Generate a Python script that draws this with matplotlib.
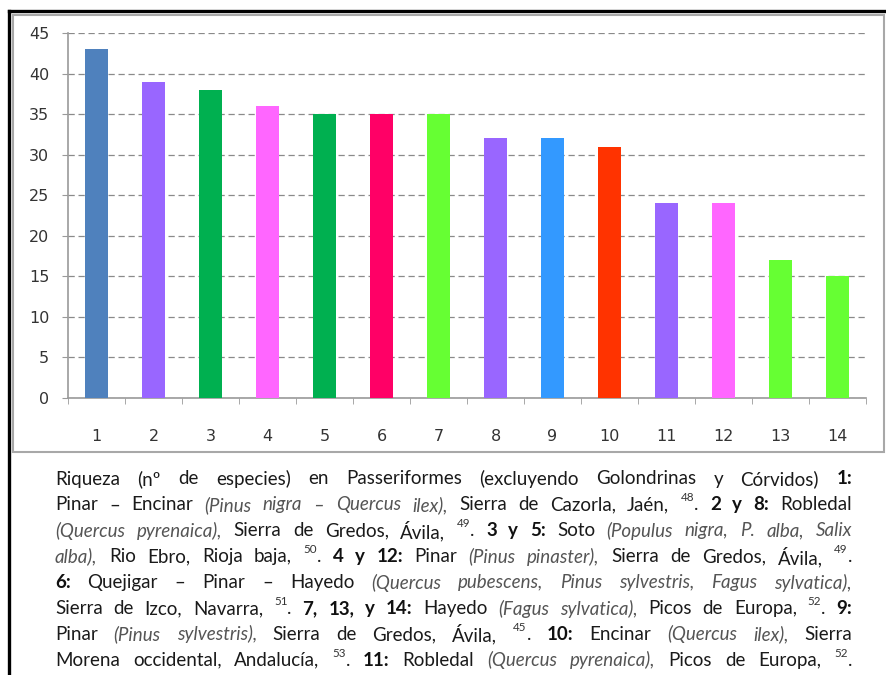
import matplotlib
matplotlib.use("Agg")
import matplotlib.pyplot as plt
from matplotlib.lines import Line2D
from matplotlib.patches import Rectangle
from matplotlib.font_manager import FontProperties, findfont

# =====================================================
# DATA
# =====================================================

sites = list(range(1, 15))
species = [43, 39, 38, 36, 35, 35, 35, 32, 32, 31, 24, 24, 17, 15]
bar_colors = ["#4F81BD", "#9966FF", "#00B050", "#FF66FF", "#00B050", "#FF0066", "#66FF33",
              "#9966FF", "#3399FF", "#FF3300", "#9966FF", "#FF66FF", "#66FF33", "#66FF33"]
y_ticks = list(range(0, 46, 5))

# caption: n = normal, i = italic, b = bold, s = superscript
caption = [
    [("Riqueza (nº de especies) en Passeriformes (excluyendo Golondrinas y Córvidos) ", "n"), ("1:", "b")],
    [("Pinar – Encinar ", "n"), ("(Pinus nigra – Quercus ilex),", "i"),
     (" Sierra de Cazorla, Jaén, ", "n"), ("48", "s"), (". ", "n"), ("2 y 8:", "b"), (" Robledal", "n")],
    [("(Quercus pyrenaica),", "i"), (" Sierra de Gredos, Ávila, ", "n"), ("49", "s"), (". ", "n"),
     ("3 y 5:", "b"), (" Soto ", "n"), ("(Populus nigra, P. alba, Salix", "i")],
    [("alba),", "i"), (" Rio Ebro, Rioja baja, ", "n"), ("50", "s"), (". ", "n"), ("4 y 12:", "b"),
     (" Pinar ", "n"), ("(Pinus pinaster),", "i"), (" Sierra de Gredos, Ávila, ", "n"), ("49", "s"), (".", "n")],
    [("6:", "b"), (" Quejigar – Pinar – Hayedo ", "n"),
     ("(Quercus pubescens, Pinus sylvestris, Fagus sylvatica),", "i")],
    [("Sierra de Izco, Navarra, ", "n"), ("51", "s"), (". ", "n"), ("7, 13, y 14:", "b"),
     (" Hayedo ", "n"), ("(Fagus sylvatica),", "i"), (" Picos de Europa, ", "n"), ("52", "s"),
     (". ", "n"), ("9:", "b")],
    [("Pinar ", "n"), ("(Pinus sylvestris),", "i"), (" Sierra de Gredos, Ávila, ", "n"), ("45", "s"),
     (". ", "n"), ("10:", "b"), (" Encinar ", "n"), ("(Quercus ilex),", "i"), (" Sierra", "n")],
    [("Morena occidental, Andalucía, ", "n"), ("53", "s"), (". ", "n"), ("11:", "b"),
     (" Robledal ", "n"), ("(Quercus pyrenaica),", "i"), (" Picos de Europa, ", "n"), ("52", "s"), (".", "n")],
]

# =====================================================
# FIGURE
# =====================================================

W, H = 886, 675
fig = plt.figure(figsize=(W / 100, H / 100), dpi=100)

# frames
fig.add_artist(Line2D([8.5 / W, 8.5 / W], [0, 1 - 11 / H], color="black", lw=2.4))
fig.add_artist(Line2D([8.5 / W, 1], [1 - 11 / H, 1 - 11 / H], color="black", lw=2.4))
fig.add_artist(Rectangle((13 / W, 1 - 452 / H), (884 - 13) / W, (452 - 15) / H,
                         transform=fig.transFigure, fill=False, edgecolor="#a8a8a8", lw=1.5))

ax = fig.add_axes([68 / W, 1 - 398 / H, (866 - 68) / W, (398 - 33) / H])
ax.bar(sites, species, width=0.4, color=bar_colors, zorder=3)

ax.set_xlim(0.5, 14.5)
ax.set_ylim(0, 45)
ax.set_yticks(y_ticks)
ax.set_xticks(sites)
ax.set_xticks([s + 0.5 for s in [0] + sites], minor=True)
ax.yaxis.grid(True, linestyle=(0, (5, 3)), color="#8a8a8a", linewidth=0.9, zorder=0)

for side in ["top", "right"]:
    ax.spines[side].set_visible(False)
for side in ["left", "bottom"]:
    ax.spines[side].set_color("#9a9a9a")
    ax.spines[side].set_linewidth(1.2)

ax.tick_params(axis="y", length=4.5, color="#9a9a9a", labelsize=11.5, labelcolor="#333333", pad=9)
ax.tick_params(axis="x", which="major", length=0, labelsize=11.5, labelcolor="#333333", pad=22)
ax.tick_params(axis="x", which="minor", length=4, color="#9a9a9a")

# =====================================================
# JUSTIFIED CAPTION
# =====================================================

# prefer a narrow face (closer to the original Calibri), else Lato
CAP_FONT = "Lato"
try:
    findfont(FontProperties(family="Liberation Sans Narrow"), fallback_to_default=False)
    CAP_FONT = "Liberation Sans Narrow"
except Exception:
    pass

STYLES = {
    "n": dict(color="#1a1a1a", weight="normal", style="normal"),
    "b": dict(color="#111111", weight="bold", style="normal"),
    "i": dict(color="#555555", weight="normal", style="italic"),
    "s": dict(color="#333333", weight="normal", style="normal"),
}
SUP = 0.62


def split_words(segments):
    words, cur = [], []
    for text, st in segments:
        parts = text.split(" ")
        for k, p in enumerate(parts):
            if k > 0 and cur:
                words.append(cur)
                cur = []
            if p:
                cur.append((p, st))
    if cur:
        words.append(cur)
    return words


renderer = fig.canvas.get_renderer()


def seg_width(text, st, size):
    fs = size * SUP if st == "s" else size
    prop = FontProperties(family=CAP_FONT, size=fs, weight=STYLES[st]["weight"], style=STYLES[st]["style"])
    w, h, d = renderer.get_text_width_height_descent(text, prop, ismath=False)
    return w


left, right = 55, 852
target = right - left
all_words = [split_words(line) for line in caption]

base = 10
space = seg_width("a a", "n", base) - seg_width("aa", "n", base)
need = 0
for words in all_words:
    total = sum(seg_width(p, st, base) for w in words for p, st in w) + (len(words) - 1) * space * 0.8
    need = max(need, total)
size = min(base * target / need, 13.5)

for li, words in enumerate(all_words):
    yc = 479 + li * 25.9
    widths = [[seg_width(p, st, size) for p, st in w] for w in words]
    gap = (target - sum(sum(w) for w in widths)) / (len(words) - 1)
    x = left
    for w, ws in zip(words, widths):
        for (p, st), pw in zip(w, ws):
            kw = dict(family=CAP_FONT, va="center", ha="left", color=STYLES[st]["color"],
                      weight=STYLES[st]["weight"], style=STYLES[st]["style"])
            if st == "s":
                fig.text(x / W, 1 - (yc - 7) / H, p, fontsize=size * SUP, **kw)
            else:
                fig.text(x / W, 1 - yc / H, p, fontsize=size, **kw)
            x += pw
        x += gap

fig.savefig("out.png", dpi=100)
